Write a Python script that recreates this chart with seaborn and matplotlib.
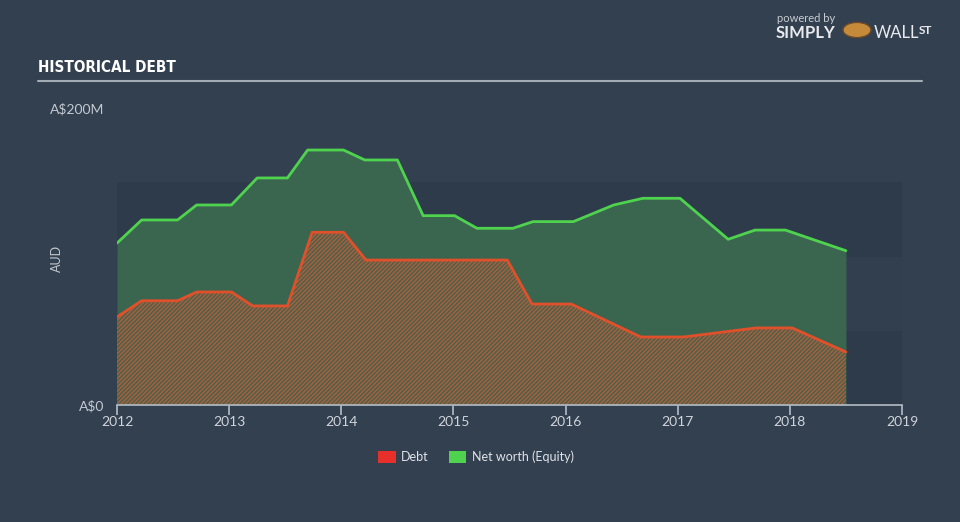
import matplotlib
matplotlib.use("Agg")
import matplotlib.pyplot as plt
from matplotlib.patches import Patch, Circle
import seaborn as sns
import pandas as pd
import numpy as np

# ---- data (A$ millions) ----
debt_dates = [2012.00, 2012.22, 2012.54, 2012.71, 2013.02, 2013.21, 2013.52,
              2013.74, 2014.02, 2014.22, 2015.48, 2015.70, 2016.05, 2016.67,
              2017.05, 2017.70, 2018.02, 2018.50]
debt_values = [59.3, 70.2, 70.2, 76.1, 76.1, 66.7, 66.7,
               116.3, 116.3, 97.6, 97.6, 68.0, 68.0, 45.8,
               45.8, 51.9, 51.9, 35.7]

equity_dates = [2012.00, 2012.22, 2012.54, 2012.71, 2013.02, 2013.25, 2013.52,
                2013.70, 2014.02, 2014.21, 2014.50, 2014.73, 2015.01, 2015.21,
                2015.53, 2015.71, 2016.07, 2016.43, 2016.69, 2017.02, 2017.45,
                2017.69, 2017.96, 2018.50]
equity_values = [109.0, 124.6, 124.6, 134.7, 134.7, 152.9, 152.9,
                 171.7, 171.7, 165.0, 165.0, 127.5, 127.5, 119.0,
                 119.0, 123.5, 123.5, 134.7, 139.2, 139.2, 111.6,
                 117.8, 117.8, 103.9]

year_ticks = [2012, 2013, 2014, 2015, 2016, 2017, 2018, 2019]
y_ticks = [0, 200]
y_tick_labels = ["A$0", "A$200M"]

debt_df = pd.DataFrame({"date": debt_dates, "value": debt_values})
eq_df = pd.DataFrame({"date": equity_dates, "value": equity_values})

BG = "#334050"
sns.set_theme(style="dark")
plt.rcParams["font.family"] = ["Lato", "DejaVu Sans"]

fig = plt.figure(figsize=(9.6, 5.22), dpi=100, facecolor=BG)
ax = fig.add_axes([117/960, (522-405)/522, (902-117)/960, (405-108)/522])
ax.set_facecolor(BG)

# background bands
ax.axhspan(0, 50, color="#2e3b4b", zorder=0, lw=0)
ax.axhspan(50, 100, color="#323f4f", zorder=0, lw=0)
ax.axhspan(100, 150, color="#2e3b4b", zorder=0, lw=0)

# equity area
ax.fill_between(eq_df["date"], 0, eq_df["value"], color="#3a6650", lw=0, zorder=1)
# debt area (hatched)
plt.rcParams["hatch.linewidth"] = 1.0
ax.fill_between(debt_df["date"], 0, debt_df["value"], facecolor="#4f6049",
                edgecolor="#a8603f", hatch="////////", lw=0, zorder=2)

sns.lineplot(data=eq_df, x="date", y="value", ax=ax, color="#4fd34f", lw=2,
             zorder=4, estimator=None, sort=False)
sns.lineplot(data=debt_df, x="date", y="value", ax=ax, color="#e0502a", lw=2,
             zorder=4, estimator=None, sort=False)

ax.set_xlim(2012, 2019)
ax.set_ylim(0, 200)
ax.set_xlabel("")
ax.set_ylabel("")
ax.grid(False)
for s in ["top", "right", "left"]:
    ax.spines[s].set_visible(False)
ax.spines["bottom"].set_color("#b4bcc6")
ax.spines["bottom"].set_linewidth(1.2)

ax.set_xticks(year_ticks)
ax.set_xticklabels([str(y) for y in year_ticks])
ax.tick_params(axis="x", colors="#b4bcc6", length=7, width=1.2, direction="out",
               bottom=True, labelsize=10, labelcolor="#d0d4da", pad=1)
ax.set_yticks(y_ticks)
ax.set_yticklabels(y_tick_labels)
ax.tick_params(axis="y", length=0, labelsize=10, labelcolor="#c4c9d0", pad=9)

fig.text(57/960, 1 - 258/522, "AUD", rotation=90, color="#c4c9d0", fontsize=9,
         ha="center", va="center")

# title and rule
fig.text(38/960, 1 - 68/522, "HISTORICAL DEBT", color="white", fontsize=11,
         fontweight="bold", family=["DejaVu Sans"], fontstretch="condensed",
         ha="left", va="center")
fig.add_artist(plt.Line2D([38/960, 922/960], [1 - 81/522, 1 - 81/522],
                          color="#a3abb5", lw=1.5))

# logo
fig.text(777/960, 1 - 18/522, "powered by", color="#c8ccd2", fontsize=8,
         ha="left", va="center")
fig.text(776/960, 1 - 33/522, "SIMPLY", color="#e8eaee", fontsize=12,
         fontweight="bold", ha="left", va="center")
fig.add_artist(Circle((857/960, 1 - 30/522), 14/960, transform=fig.transFigure,
                      facecolor="#c58a3a", edgecolor="#6a4a2a", lw=1))
fig.text(874/960, 1 - 33/522, "WALL", color="#e8eaee", fontsize=12,
         ha="left", va="center")
fig.text(919/960, 1 - 30/522, "ST", color="#e8eaee", fontsize=8.5,
         fontweight="bold", ha="left", va="center")

# legend
handles = [Patch(facecolor="#e8302a", edgecolor="none", label="Debt"),
           Patch(facecolor="#4fd34f", edgecolor="none", label="Net worth (Equity)")]
leg = fig.legend(handles=handles, loc="center", bbox_to_anchor=(476/960, 1 - 457/522),
                 ncol=2, frameon=False, fontsize=9, handlelength=1.4,
                 handleheight=1.0, columnspacing=1.6, handletextpad=0.45)
for t in leg.get_texts():
    t.set_color("#e0e3e8")

fig.savefig("out.png", dpi=100, facecolor=BG)
